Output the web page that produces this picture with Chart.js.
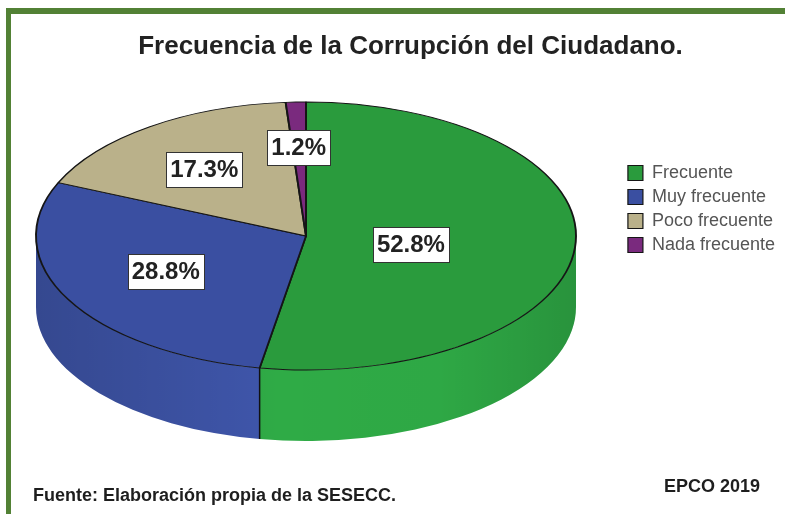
<!DOCTYPE html>
<html lang="es">
<head>
<meta charset="utf-8">
<title>Frecuencia de la Corrupción del Ciudadano</title>
<script src="https://cdn.jsdelivr.net/npm/chart.js@4.4.1/dist/chart.umd.min.js"></script>
<style>
  html, body { margin: 0; padding: 0; background: #fff; }
  #marco { position: relative; width: 785px; height: 514px; overflow: hidden; }
  #borde { position: absolute; left: 6px; top: 8px; right: -10px; bottom: -10px;
           border-top: 6px solid #528135; border-left: 5px solid #528135; }
  #grafico { position: absolute; left: 0; top: 0; }
  .nota { position: absolute; font: bold 18px Arial, "Liberation Sans", sans-serif; color: #1e1e1e; }
</style>
</head>
<body>
<div id="marco">
  <div id="borde"></div>
  <canvas id="grafico" width="785" height="514"></canvas>
  <div class="nota" style="left:33px; top:485px;">Fuente: Elaboración propia de la SESECC.</div>
  <div class="nota" style="left:664px; top:476px;">EPCO 2019</div>
</div>
<script>
const categorias = ['Frecuente', 'Muy frecuente', 'Poco frecuente', 'Nada frecuente'];
const porcentajes = [52.8, 28.8, 17.3, 1.2];
const coloresCara = ['#2a9b3d', '#3a4fa1', '#bab18a', '#7a2a7e'];
const coloresLado = ['#2fab46', '#3f56ab', '#c4bb93', '#85308a'];

// pastel en perspectiva: centro y radios de la cara superior, grosor del cilindro
const CX = 306, CY = 236, RX = 270, RY = 134, GROSOR = 71;
const posEtiqueta = [0.39, 0.59, 0.65, 0.72];
const ajusteY = [4, -2, 4, 8];

const pastel3d = {
  id: 'pastel3d',
  beforeDatasetsDraw(chart) {
    const ctx = chart.ctx;
    const arcos = chart.getDatasetMeta(0).data;
    const r = arcos[0].outerRadius;
    ctx.save();

    // cara lateral visible (ángulos 0..PI)
    arcos.forEach((arco, i) => {
      const a = Math.max(arco.startAngle, 0);
      const b = Math.min(arco.endAngle, Math.PI);
      if (b <= a) return;
      ctx.beginPath();
      ctx.ellipse(CX, CY, RX, RY, 0, a, b);
      ctx.ellipse(CX, CY + GROSOR, RX, RY, 0, b, a, true);
      ctx.closePath();
      ctx.fillStyle = coloresLado[i];
      ctx.fill();
      const sombra = ctx.createLinearGradient(CX - RX, 0, CX + RX, 0);
      sombra.addColorStop(0, 'rgba(0,0,0,0.16)');
      sombra.addColorStop(0.45, 'rgba(0,0,0,0)');
      sombra.addColorStop(0.75, 'rgba(0,0,0,0.02)');
      sombra.addColorStop(1, 'rgba(0,0,0,0.14)');
      ctx.fillStyle = sombra;
      ctx.fill();
    });
    // aristas verticales entre porciones
    ctx.strokeStyle = '#111';
    ctx.lineWidth = 1.5;
    arcos.forEach(arco => {
      const a = arco.startAngle;
      if (a > 0 && a < Math.PI) {
        const x = CX + RX * Math.cos(a), y = CY + RY * Math.sin(a);
        ctx.beginPath();
        ctx.moveTo(x, y);
        ctx.lineTo(x, y + GROSOR);
        ctx.stroke();
      }
    });

    // la cara superior se aplana a elipse
    ctx.translate(CX, CY);
    ctx.scale(RX / r, RY / r);
    ctx.translate(-arcos[0].x, -arcos[0].y);
  },
  afterDatasetsDraw(chart) {
    const ctx = chart.ctx;
    ctx.restore();
    const arcos = chart.getDatasetMeta(0).data;
    ctx.save();
    ctx.font = 'bold 24px Arial, "Liberation Sans", sans-serif';
    ctx.textAlign = 'center';
    ctx.textBaseline = 'middle';
    arcos.forEach((arco, i) => {
      const m = (arco.startAngle + arco.endAngle) / 2;
      const x = CX + RX * posEtiqueta[i] * Math.cos(m);
      const y = CY + ajusteY[i] + RY * posEtiqueta[i] * Math.sin(m);
      const texto = porcentajes[i].toFixed(1) + '%';
      const w = ctx.measureText(texto).width + 8;
      const h = 35;
      ctx.fillStyle = '#fff';
      ctx.fillRect(Math.round(x - w / 2), Math.round(y - h / 2), Math.round(w), h);
      ctx.strokeStyle = '#333';
      ctx.lineWidth = 1;
      ctx.strokeRect(Math.round(x - w / 2) + 0.5, Math.round(y - h / 2) + 0.5, Math.round(w), h);
      ctx.fillStyle = '#222';
      ctx.fillText(texto, x, y + 1);
    });
    ctx.restore();
  }
};

new Chart(document.getElementById('grafico'), {
  type: 'pie',
  data: {
    labels: categorias,
    datasets: [{
      data: porcentajes,
      backgroundColor: coloresCara,
      borderColor: '#151515',
      borderWidth: 1.2,
      clip: false
    }]
  },
  options: {
    responsive: false,
    animation: false,
    events: [],
    layout: { padding: { left: 36, right: 0, top: 0, bottom: 96 } },
    plugins: {
      title: {
        display: true,
        text: 'Frecuencia de la Corrupción del Ciudadano.',
        color: '#222',
        font: { family: 'Arial, "Liberation Sans", sans-serif', size: 26, weight: 'bold' },
        padding: { top: 31, bottom: 20 }
      },
      legend: {
        position: 'right',
        align: 'center',
        labels: {
          color: '#555',
          boxWidth: 15,
          boxHeight: 15,
          padding: 6,
          font: { family: 'Arial, "Liberation Sans", sans-serif', size: 18 }
        }
      },
      tooltip: { enabled: false }
    }
  },
  plugins: [pastel3d]
});
</script>
</body>
</html>
